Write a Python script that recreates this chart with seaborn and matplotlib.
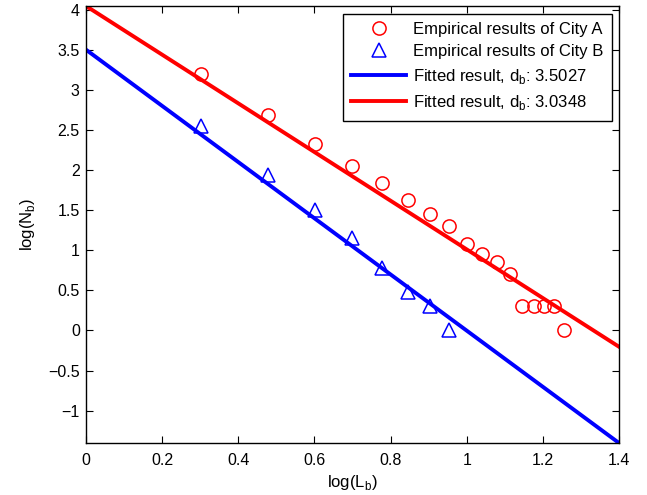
import matplotlib
matplotlib.use("Agg")
import matplotlib.pyplot as plt
import seaborn as sns
import numpy as np

# ---- data ----
x_city_a = [0.301, 0.477, 0.602, 0.699, 0.778, 0.845, 0.903, 0.954, 1.000,
            1.041, 1.079, 1.114, 1.146, 1.176, 1.204, 1.230, 1.255]
y_city_a = [3.20, 2.68, 2.32, 2.05, 1.84, 1.62, 1.45, 1.30, 1.08,
            0.95, 0.85, 0.70, 0.30, 0.30, 0.30, 0.30, 0.00]
x_city_b = [0.301, 0.477, 0.602, 0.699, 0.778, 0.845, 0.903, 0.954]
y_city_b = [2.55, 1.94, 1.50, 1.15, 0.78, 0.48, 0.30, 0.00]

db_b, intercept_b = 3.5027, 3.500
db_a, intercept_a = 3.0348, 4.045
x_range = [0.0, 1.4]

labels = ["Empirical results of City A", "Empirical results of City B",
          "Fitted result, d$_\\mathregular{b}$: 3.5027",
          "Fitted result, d$_\\mathregular{b}$: 3.0348"]

plt.rcParams['font.family'] = ['Liberation Sans', 'DejaVu Sans']
plt.rcParams['font.size'] = 11.5
plt.rcParams['mathtext.fontset'] = 'custom'
plt.rcParams['mathtext.rm'] = 'Liberation Sans'

fig = plt.figure(figsize=(6.47, 4.95), dpi=100)
ax = fig.add_axes([86/647, 1-443/495, (619-86)/647, (443-6)/495])

sns.lineplot(x=x_city_a, y=y_city_a, ax=ax, marker='o', linestyle='none',
             markerfacecolor='none', markeredgecolor='red', markeredgewidth=1.1,
             markersize=9.5, color='red', sort=False, errorbar=None, label=labels[0])
sns.lineplot(x=x_city_b, y=y_city_b, ax=ax, marker='^', linestyle='none',
             markerfacecolor='none', markeredgecolor='blue', markeredgewidth=1.1,
             markersize=10.5, color='blue', sort=False, errorbar=None, label=labels[1])

xs = np.array(x_range)
sns.lineplot(x=xs, y=intercept_b - db_b * xs, ax=ax, color='blue', linewidth=2.8,
             sort=False, errorbar=None, label=labels[2])
sns.lineplot(x=xs, y=intercept_a - db_a * xs, ax=ax, color='red', linewidth=2.8,
             sort=False, errorbar=None, label=labels[3])

ax.set_xlim(x_range)
ax.set_ylim(intercept_b - db_b * x_range[1], intercept_a)
ax.set_xticks([0, 0.2, 0.4, 0.6, 0.8, 1.0, 1.2, 1.4])
ax.set_xticklabels(["0", "0.2", "0.4", "0.6", "0.8", "1", "1.2", "1.4"])
ax.set_yticks([-1, -0.5, 0, 0.5, 1, 1.5, 2, 2.5, 3, 3.5, 4])
ax.set_yticklabels(["\u22121", "\u22120.5", "0", "0.5", "1", "1.5", "2", "2.5", "3", "3.5", "4"])
ax.tick_params(direction='in', top=True, right=True, length=5, width=0.8)
ax.tick_params(axis='x', pad=7)
ax.tick_params(axis='y', pad=4.5)
for s in ax.spines.values():
    s.set_linewidth(1.0)

ax.set_xlabel("log(L$_\\mathregular{b}$)", fontsize=12, labelpad=4)
ax.set_ylabel("log(N$_\\mathregular{b}$)", fontsize=12, labelpad=8)

leg = ax.legend(loc='upper right', fancybox=False, framealpha=1, edgecolor='black',
                fontsize=12, handlelength=3.3, handletextpad=0.38, borderpad=0.5,
                labelspacing=0.45, borderaxespad=0.45)
leg.get_frame().set_linewidth(1.0)

fig.savefig("out.png", dpi=100)
